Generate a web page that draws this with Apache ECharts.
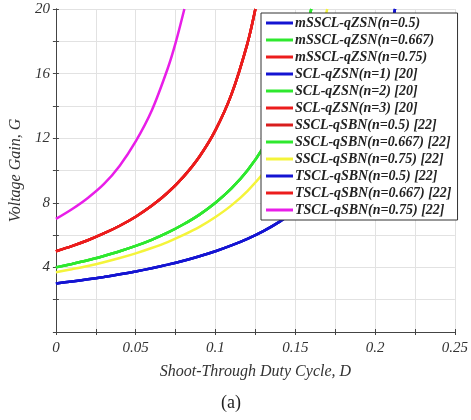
<!DOCTYPE html>
<html>
<head>
<meta charset="utf-8">
<script src="https://cdn.jsdelivr.net/npm/echarts@6/dist/echarts.min.js"></script>
<style>
  html, body { margin: 0; padding: 0; background: #fff; }
  #main { width: 471px; height: 420px; }
</style>
</head>
<body>
<div id="main"></div>
<script>
// shoot-through duty cycle D and voltage gain G
var dBlue = [0, 0.01, 0.02, 0.03, 0.04, 0.05, 0.06, 0.07, 0.08, 0.09, 0.10, 0.11, 0.12, 0.13, 0.14, 0.15, 0.16, 0.17, 0.18, 0.19, 0.20, 0.21, 0.2125];
var gBlue = [3.00, 3.13, 3.26, 3.41, 3.57, 3.75, 3.95, 4.17, 4.41, 4.69, 5.00, 5.36, 5.77, 6.25, 6.82, 7.50, 8.33, 9.38, 10.71, 12.50, 15.00, 18.75, 20.0];

var dGreen = [0, 0.01, 0.02, 0.03, 0.04, 0.05, 0.06, 0.07, 0.08, 0.09, 0.10, 0.11, 0.12, 0.13, 0.14, 0.15, 0.16];
var gGreen = [4.00, 4.21, 4.44, 4.71, 5.00, 5.33, 5.71, 6.15, 6.67, 7.27, 8.00, 8.89, 10.00, 11.43, 13.33, 16.00, 20.0];

var dYellow = [0, 0.01, 0.02, 0.03, 0.04, 0.05, 0.06, 0.07, 0.08, 0.09, 0.10, 0.11, 0.12, 0.13, 0.14, 0.15, 0.16, 0.17];
var gYellow = [3.70, 3.89, 4.09, 4.32, 4.58, 4.87, 5.20, 5.57, 6.01, 6.51, 7.12, 7.84, 8.73, 9.84, 11.28, 13.21, 15.95, 20.0];

var dRed = [0, 0.01, 0.02, 0.03, 0.04, 0.05, 0.06, 0.07, 0.08, 0.09, 0.10, 0.11, 0.12, 0.125];
var gRed = [5.00, 5.32, 5.68, 6.10, 6.58, 7.14, 7.81, 8.62, 9.62, 10.87, 12.50, 14.71, 17.86, 20.0];

var dMagenta = [0, 0.01, 0.02, 0.03, 0.04, 0.05, 0.06, 0.07, 0.075, 0.0805];
var gMagenta = [7.0, 7.6, 8.3, 9.15, 10.3, 11.8, 13.7, 16.3, 17.9, 20.0];

var names = [
  'mSSCL-qZSN(n=0.5)', 'mSSCL-qZSN(n=0.667)', 'mSSCL-qZSN(n=0.75)',
  'SCL-qZSN(n=1) [20]', 'SCL-qZSN(n=2) [20]', 'SCL-qZSN(n=3) [20]',
  'SSCL-qSBN(n=0.5) [22]', 'SSCL-qSBN(n=0.667) [22]', 'SSCL-qSBN(n=0.75) [22]',
  'TSCL-qSBN(n=0.5) [22]', 'TSCL-qSBN(n=0.667) [22]', 'TSCL-qSBN(n=0.75) [22]'
];
var xTicks = ['0', '0.05', '0.1', '0.15', '0.2', '0.25'];
var yTicks = ['4', '8', '12', '16', '20'];

var BLUE = '#1414d2', GREEN = '#2ee82e', RED = '#ec1c1c', DRED = '#d81e1e',
    YELLOW = '#f4f43a', MAGENTA = '#e81ee8';

function pairs(d, g) {
  var out = [];
  for (var i = 0; i < d.length; i++) out.push([d[i], g[i]]);
  return out;
}

// which curve each legend entry sits on
var curves = [
  [dBlue, gBlue, BLUE], [dGreen, gGreen, GREEN], [dRed, gRed, RED],
  [dBlue, gBlue, BLUE], [dGreen, gGreen, GREEN], [dRed, gRed, RED],
  [dRed, gRed, DRED], [dGreen, gGreen, GREEN], [dYellow, gYellow, YELLOW],
  [dBlue, gBlue, BLUE], [dRed, gRed, RED], [dMagenta, gMagenta, MAGENTA]
];

var series = [];
for (var i = 0; i < names.length; i++) {
  series.push({
    name: names[i],
    type: 'line',
    smooth: 0.3,
    symbol: 'none',
    data: pairs(curves[i][0], curves[i][1]),
    lineStyle: { color: curves[i][2], width: 2.5 },
    itemStyle: { color: curves[i][2] }
  });
}

var myChart = echarts.init(document.getElementById('main'));
var serif = 'Liberation Serif';
var option = {
  animation: false,
  grid: { left: 53, right: 14, top: 9, bottom: 88 },
  legend: {
    orient: 'vertical',
    left: 261,
    top: 13,
    data: names,
    icon: 'rect',
    itemWidth: 27,
    itemHeight: 3,
    itemGap: 3,
    padding: [3, 6, 3, 5],
    backgroundColor: '#fff',
    borderColor: '#333',
    borderWidth: 1,
    textStyle: { fontFamily: serif, fontStyle: 'italic', fontWeight: 'bold', fontSize: 14, color: '#222', padding: [0, 0, 0, -3] }
  },
  xAxis: [{
    type: 'value', min: 0, max: 0.25, interval: 0.025,
    name: 'Shoot-Through Duty Cycle, D', nameLocation: 'middle', nameGap: 32,
    nameTextStyle: { fontFamily: serif, fontStyle: 'italic', fontSize: 16, color: '#333' },
    axisLine: { lineStyle: { color: '#444' } },
    axisTick: { inside: true, length: 3, lineStyle: { color: '#444' } },
    axisLabel: {
      fontFamily: serif, fontStyle: 'italic', fontSize: 15, color: '#333', margin: 9,
      formatter: function (v) {
        var k = Math.round(v * 1000);
        return k % 50 === 0 ? xTicks[k / 50] : '';
      }
    },
    splitLine: { show: true, lineStyle: { color: '#e2e2e2' } }
  }, {
    type: 'value', min: 0, max: 0.25, interval: 0.025, position: 'top',
    axisLine: { lineStyle: { color: '#444' } },
    axisTick: { inside: true, length: 3, lineStyle: { color: '#444' } },
    axisLabel: { show: false }, splitLine: { show: false }
  }],
  yAxis: [{
    type: 'value', min: 0, max: 20, interval: 2,
    name: 'Voltage Gain, G', nameLocation: 'middle', nameGap: 28,
    nameTextStyle: { fontFamily: serif, fontStyle: 'italic', fontSize: 16, color: '#333' },
    axisLine: { show: true, lineStyle: { color: '#444' } },
    axisTick: { show: true, inside: true, length: 3, lineStyle: { color: '#444' } },
    axisLabel: {
      fontFamily: serif, fontStyle: 'italic', fontSize: 15, color: '#333', margin: 6,
      formatter: function (v) {
        return (v > 0 && v % 4 === 0) ? yTicks[v / 4 - 1] : '';
      }
    },
    splitLine: { show: true, lineStyle: { color: '#e2e2e2' } }
  }, {
    type: 'value', min: 0, max: 20, interval: 2, position: 'right',
    axisLine: { show: true, lineStyle: { color: '#444' } },
    axisTick: { show: true, inside: true, length: 3, lineStyle: { color: '#444' } },
    axisLabel: { show: false }, splitLine: { show: false }
  }],
  graphic: [{
    type: 'text', left: 221, top: 394,
    style: { text: '(a)', font: '18px "Liberation Serif"', fill: '#222' }
  }],
  series: series
};
myChart.setOption(option);
</script>
</body>
</html>
